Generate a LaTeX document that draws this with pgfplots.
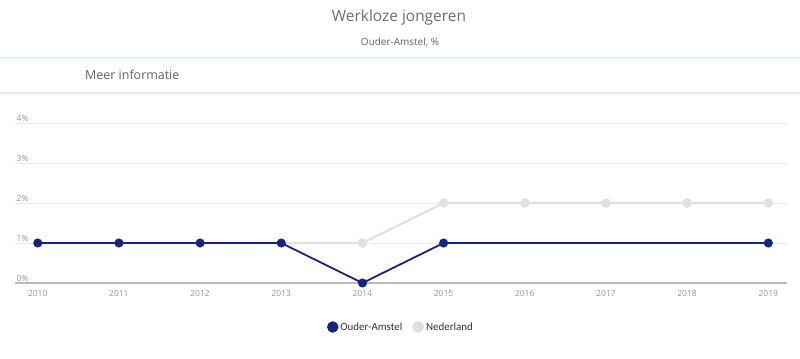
\documentclass[border=0pt]{standalone}
\usepackage{fontspec}
\setmainfont{Open Sans}
\newfontfamily\legfont{Carlito}
\usepackage{pgfplots}
\pgfplotsset{compat=1.18}
\definecolor{oa}{RGB}{26,35,126}
\definecolor{nl}{RGB}{224,224,224}
\definecolor{gridc}{RGB}{232,232,232}
\definecolor{basec}{RGB}{185,185,185}
\definecolor{tickc}{RGB}{150,150,150}
\definecolor{sep}{RGB}{222,242,241}
\definecolor{titc}{RGB}{110,110,110}
\begin{document}
\begin{tikzpicture}
\useasboundingbox (0bp,0bp) rectangle (800bp,359bp);
\fill[white] (0bp,0bp) rectangle (800bp,359bp);
\draw[sep, line width=1.5bp] (0bp,301bp) -- (800bp,301bp);
\draw[sep, line width=1.5bp] (0bp,266bp) -- (800bp,266bp);
\node[text=titc, font=\fontsize{15.5}{18}\selectfont] at (399bp,342bp) {Werkloze jongeren};
\node[text=titc!90!black, font=\fontsize{10}{12}\selectfont] at (400bp,317bp) {Ouder-Amstel, \%};
\node[anchor=west, inner sep=0pt, text=titc!90!black, font=\fontsize{12.5}{15}\selectfont] at (85bp,284bp) {Meer informatie};
\begin{axis}[
  at={(15bp,76bp)}, anchor=south west, scale only axis,
  width=772bp, height=160bp,
  xmin=2009.72, xmax=2019.23, ymin=0, ymax=4,
  axis lines*=left,
  x axis line style={basec, line width=1.5bp, -},
  y axis line style={draw=none},
  xtick={2010,...,2019}, ytick={0,1,2,3,4},
  major tick length=0pt,
  ymajorgrids, grid style={gridc, line width=0.9bp},
  /pgf/number format/assume math mode=true,
  xticklabel style={/pgf/number format/1000 sep={}, text=tickc, font=\fontsize{8.5}{10}\selectfont, yshift=-4bp},
  yticklabel={\pgfmathprintnumber{\tick}\%},
  yticklabel style={anchor=south west, inner sep=1.5bp, text=tickc, font=\fontsize{8.5}{10}\selectfont},
  clip=false,
  reverse legend,
  legend style={at={(0.5,-0.275)}, anchor=center, draw=none, fill=none,
    font=\legfont\fontsize{11}{13}\selectfont, text=black!80,
    legend columns=2, /tikz/every even column/.append style={column sep=8bp}},
  legend image code/.code={\fill[#1] (0.45em,0) circle (4.8bp);},
]
\addplot[nl, line width=2.2bp, mark=*, mark size=3.6bp, mark options={fill=nl, draw=nl}, mark indices={5,6,7,8,9,10}]
  coordinates {(2010,1) (2011,1) (2012,1) (2013,1) (2014,1) (2015,2) (2016,2) (2017,2) (2018,2) (2019,2)};
\addlegendentry{Nederland}
\addplot[oa, line width=1.8bp, mark=*, mark size=3.6bp, mark options={fill=oa, draw=oa}, mark indices={1,2,3,4,5,6,10}]
  coordinates {(2010,1) (2011,1) (2012,1) (2013,1) (2014,0) (2015,1) (2016,1) (2017,1) (2018,1) (2019,1)};
\addlegendentry{Ouder-Amstel}
\end{axis}
\end{tikzpicture}
\end{document}
